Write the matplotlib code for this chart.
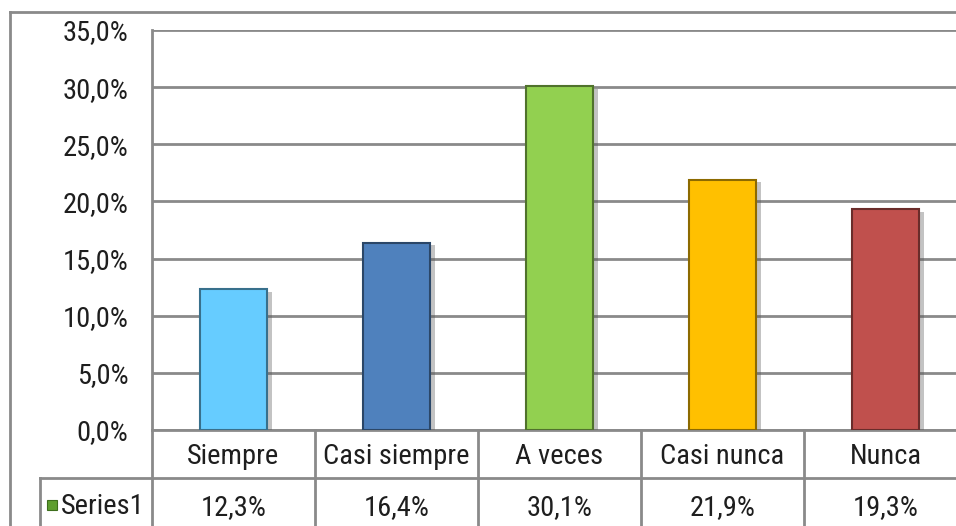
import matplotlib.pyplot as plt
import matplotlib.patheffects as pe
from matplotlib.colors import to_rgb
from matplotlib.lines import Line2D
from matplotlib.patches import Rectangle

plt.rcParams['font.family'] = ['Roboto Condensed', 'Archivo Narrow', 'Liberation Sans', 'DejaVu Sans']

# Datos de la encuesta
categorias = ['Siempre', 'Casi siempre', 'A veces', 'Casi nunca', 'Nunca']
porcentajes = [12.3, 16.4, 30.1, 21.9, 19.3]
colores = ['#66CCFF', '#4F81BD', '#92D050', '#FFC000', '#C0504D']
serie = 'Series1'
ticks_y = [0, 5, 10, 15, 20, 25, 30, 35]

W, H = 956, 526
fig = plt.figure(figsize=(W / 100, H / 100), dpi=100)
fig.patch.set_facecolor('white')

# Área del gráfico (en píxeles)
x0, y_top, y_base = 152, 30, 430
col_w = 163
alto = y_base - y_top
ax = fig.add_axes([x0 / W, (H - y_base) / H, (W - x0) / W, alto / H])
ax.set_xlim(-0.5, -0.5 + (W - x0) / col_w)
ax.set_ylim(0, 35)

gris = '#8a8a8a'
texto = '#1e1e1e'
fs = 20.5
ax.set_yticks(ticks_y)
ax.set_yticklabels([f'{v:.1f}%'.replace('.', ',') for v in ticks_y], fontsize=fs, color=texto)
ax.tick_params(axis='y', length=0, pad=17)
ax.set_xticks([])
ax.grid(axis='y', color=gris, linewidth=2)
ax.set_axisbelow(True)
for s in ['top', 'right', 'bottom']:
    ax.spines[s].set_visible(False)
ax.spines['left'].set_color(gris)
ax.spines['left'].set_linewidth(2)

def oscuro(c, f=0.55):
    r, g, b = to_rgb(c)
    return (r * f, g * f, b * f)

barras = ax.bar(range(len(categorias)), porcentajes, width=0.405, color=colores,
                edgecolor=[oscuro(c) for c in colores], linewidth=1.5, zorder=3)
for b in barras:
    b.set_path_effects([pe.SimplePatchShadow(offset=(4, -2), shadow_rgbFace='#555555', alpha=0.35),
                        pe.Normal()])

# Tabla de datos bajo el gráfico
trans = ax.get_xaxis_transform()
fila = 48 / alto
bordes = [-0.5 + i for i in range(len(categorias) + 1)]
for xb in bordes:
    ax.add_line(Line2D([xb, xb], [0, -2 * fila - 0.05], transform=trans, color=gris,
                       linewidth=2, clip_on=False))
ax.add_line(Line2D([-0.5, 5], [0, 0], transform=trans, color=gris, linewidth=2, clip_on=False))
x_ley = -0.5 - (x0 - 40) / col_w
ax.add_line(Line2D([x_ley, 5], [-fila, -fila], transform=trans, color=gris, linewidth=2, clip_on=False))
ax.add_line(Line2D([x_ley, x_ley], [-fila, -2 * fila - 0.05], transform=trans, color=gris,
                   linewidth=2, clip_on=False))

y_cat = -26 / alto
y_val = -78 / alto
for i, (cat, v) in enumerate(zip(categorias, porcentajes)):
    ax.text(i, y_cat, cat, transform=trans, ha='center', va='center', fontsize=fs, color=texto)
    ax.text(i, y_val, f'{v:.1f}%'.replace('.', ','), transform=trans,
            ha='center', va='center', fontsize=fs, color=texto)

# Leyenda de la serie dentro de la tabla
ax.add_patch(Rectangle((x_ley + 7 / col_w, -80 / alto), 10 / col_w, 10 / alto,
                       transform=trans, facecolor='#5E9E2E', edgecolor='#3d6e1c',
                       linewidth=0.8, clip_on=False))
ax.text(x_ley + 21 / col_w, -77 / alto, serie, transform=trans, ha='left', va='center',
        fontsize=fs, color=texto)

# Marco exterior
fig.add_artist(Line2D([10 / W, 10 / W], [0, (H - 12) / H], color=gris, linewidth=2))
fig.add_artist(Line2D([10 / W, 1], [(H - 12) / H, (H - 12) / H], color=gris, linewidth=2))

fig.savefig('out.png', dpi=100)
